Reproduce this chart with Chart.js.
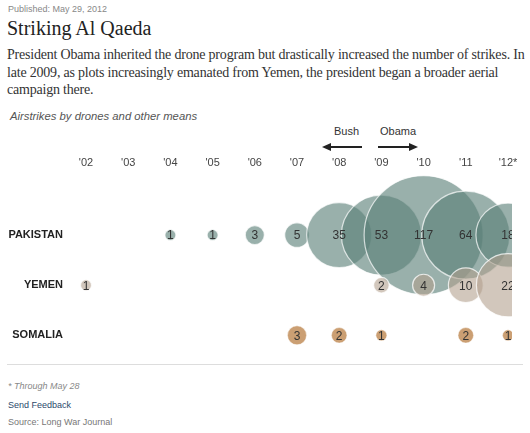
<!DOCTYPE html>
<html>
<head>
<meta charset="utf-8">
<script src="https://cdn.jsdelivr.net/npm/chart.js@4.4.1/dist/chart.umd.min.js"></script>
<style>
  html, body { margin: 0; padding: 0; background: #fff; }
  body { width: 530px; height: 433px; position: relative; overflow: hidden; font-family: "Liberation Sans", Arial, sans-serif; }
  .abs { position: absolute; white-space: nowrap; }
  #pub { left: 8px; top: 4px; font-size: 9px; color: #888; }
  #title { left: 7px; top: 17px; font-family: "Liberation Serif", "DejaVu Serif", serif; font-size: 20px; color: #222; }
  #para { left: 7px; top: 46px; font-family: "Liberation Serif", "DejaVu Serif", serif; font-size: 14px; letter-spacing: -0.2px; line-height: 17.5px; color: #333; }
  #sub { left: 10px; top: 110px; font-size: 11.3px; font-style: italic; color: #555; }
  #bush { left: 334px; top: 125px; font-size: 11px; color: #333; }
  #obama { left: 380px; top: 125px; font-size: 11px; color: #333; }
  #arrows { position: absolute; left: 0; top: 0; }
  #chartWrap { position: absolute; left: 0; top: 146px; width: 530px; height: 228px; }
  #rule { position: absolute; left: 7px; top: 364px; width: 516px; height: 1px; background: #ddd; }
  #note { left: 8px; top: 381px; font-size: 9px; font-style: italic; color: #888; }
  #feedback { left: 8px; top: 400px; font-size: 9px; color: #2b4a6b; }
  #source { left: 8px; top: 417px; font-size: 9px; color: #777; }
</style>
</head>
<body>
<div id="pub" class="abs">Published: May 29, 2012</div>
<div id="title" class="abs">Striking Al Qaeda</div>
<div id="para" class="abs">President Obama inherited the drone program but drastically increased the number of strikes. In<br>late 2009, as plots increasingly emanated from Yemen, the president began a broader aerial<br>campaign there.</div>
<div id="sub" class="abs">Airstrikes by drones and other means</div>
<div id="bush" class="abs">Bush</div>
<div id="obama" class="abs">Obama</div>
<svg id="arrows" width="530" height="433">
  <line x1="362" y1="147" x2="328" y2="147" stroke="#222" stroke-width="2"/>
  <polygon points="322,147 331,143 331,151" fill="#222"/>
  <line x1="378" y1="147" x2="412" y2="147" stroke="#222" stroke-width="2"/>
  <polygon points="418,147 409,143 409,151" fill="#222"/>
</svg>
<div id="chartWrap"><canvas id="c" width="530" height="228"></canvas></div>
<div id="rule"></div>
<div id="note" class="abs">* Through May 28</div>
<div id="feedback" class="abs">Send Feedback</div>
<div id="source" class="abs">Source: Long War Journal</div>

<script>
// ---- Data ----
const years = [2002, 2003, 2004, 2005, 2006, 2007, 2008, 2009, 2010, 2011, 2012];
const yearLabels = ["'02", "'03", "'04", "'05", "'06", "'07", "'08", "'09", "'10", "'11", "'12*"];
const countries = ["PAKISTAN", "YEMEN", "SOMALIA"];

// Strike counts (the numbers printed in the bubbles)
const pakistan = [null, null, 1, 1, 3, 5, 35, 53, 117, 64, 18];
const yemen    = [1, null, null, null, null, null, null, 2, 4, 10, 22];
const somalia  = [null, null, null, null, null, 3, 2, 1, null, 2, 1];

// Bubble sizes as drawn (2012 bubbles are drawn larger than the partial-year count)
const pakistanSize = [null, null, 1, 1, 3, 5, 35, 53, 117, 64, 34];
const yemenSize    = [1, null, null, null, null, null, null, 2, 4, 10, 33];
const somaliaSize  = [null, null, null, null, null, 3, 2, 1, null, 2, 1];

const RADIUS_K = 5.5; // px per sqrt(count)

function toPoints(counts, sizes, row) {
  const pts = [];
  years.forEach((yr, i) => {
    if (counts[i] == null) return;
    pts.push({ x: yr, y: row, r: RADIUS_K * Math.sqrt(sizes[i]), v: counts[i] });
  });
  return pts;
}

const bubbleLabels = {
  id: 'bubbleLabels',
  afterDatasetsDraw(chart) {
    const ctx = chart.ctx;
    const area = chart.chartArea;
    ctx.save();
    ctx.beginPath();
    ctx.rect(0, 0, area.right, chart.height);
    ctx.clip();
    ctx.font = '12px "Liberation Sans", Arial, sans-serif';
    ctx.fillStyle = '#333';
    ctx.textAlign = 'center';
    ctx.textBaseline = 'middle';
    chart.data.datasets.forEach((ds, di) => {
      const meta = chart.getDatasetMeta(di);
      meta.data.forEach((el, i) => {
        ctx.fillText(String(ds.data[i].v), el.x, el.y + 1);
      });
    });
    ctx.restore();
  }
};

new Chart(document.getElementById('c'), {
  type: 'bubble',
  data: {
    datasets: [
      {
        label: countries[2],
        data: toPoints(somalia, somaliaSize, 2),
        backgroundColor: 'rgba(196,146,96,0.88)',
        borderColor: 'rgba(255,255,255,0.5)',
        borderWidth: 1,
        order: 1,
        clip: { left: false, top: false, right: 0, bottom: false }
      },
      {
        label: countries[1],
        data: toPoints(yemen, yemenSize, 1),
        backgroundColor: 'rgba(178,158,140,0.58)',
        borderColor: 'rgba(255,255,255,0.75)',
        borderWidth: 1.2,
        order: 2,
        clip: { left: false, top: false, right: 0, bottom: false }
      },
      {
        label: countries[0],
        data: toPoints(pakistan, pakistanSize, 0),
        backgroundColor: 'rgba(91,127,120,0.62)',
        borderColor: 'rgba(255,255,255,0.7)',
        borderWidth: 1.2,
        order: 3,
        clip: { left: false, top: false, right: 0, bottom: false }
      }
    ]
  },
  options: {
    responsive: false,
    animation: false,
    events: [],
    layout: { autoPadding: false, padding: { left: 0, right: 18, top: 0, bottom: 0 } },
    plugins: { legend: { display: false }, tooltip: { enabled: false } },
    elements: { point: { hoverRadius: 0 } },
    scales: {
      x: {
        type: 'linear',
        position: 'top',
        min: 2001.502,
        max: 2012.095,
        grid: { display: false, drawTicks: false },
        border: { display: false },
        afterBuildTicks(scale) { scale.ticks = years.map(v => ({ value: v })); },
        afterFit(scale) { scale.height = 30; },
        ticks: {
          padding: 6,
          maxRotation: 0,
          autoSkip: false,
          color: '#444',
          font: { family: '"Liberation Sans", Arial, sans-serif', size: 11 },
          callback: (v) => yearLabels[years.indexOf(v)]
        }
      },
      y: {
        type: 'linear',
        reverse: true,
        min: -1.18,
        max: 2.6,
        grid: { display: false, drawTicks: false },
        border: { display: false },
        afterBuildTicks(scale) { scale.ticks = [0, 1, 2].map(v => ({ value: v })); },
        afterFit(scale) { scale.width = 65; },
        ticks: {
          padding: 2,
          color: '#222',
          font: { family: '"Liberation Sans", Arial, sans-serif', size: 11, weight: 'bold' },
          callback: (v) => countries[v]
        }
      }
    }
  },
  plugins: [bubbleLabels]
});
</script>
</body>
</html>
